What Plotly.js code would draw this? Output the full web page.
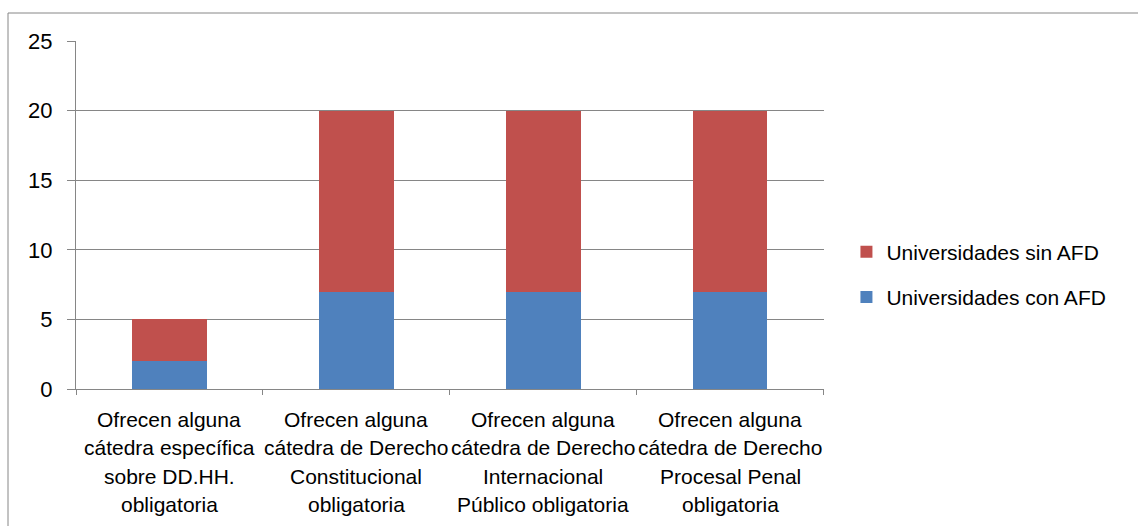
<!DOCTYPE html>
<html>
<head>
<meta charset="utf-8">
<script src="https://cdn.plot.ly/plotly-3.0.1.min.js"></script>
<style>
  html, body { margin: 0; padding: 0; background: #fff; }
  #chart { width: 1138px; height: 526px; }
</style>
</head>
<body>
<div id="chart"></div>
<script>
const categories = [
  "Ofrecen alguna<br>cátedra específica<br>sobre DD.HH.<br>obligatoria",
  "Ofrecen alguna<br>cátedra de Derecho<br>Constitucional<br>obligatoria",
  "Ofrecen alguna<br>cátedra de Derecho<br>Internacional<br>Público obligatoria",
  "Ofrecen alguna<br>cátedra de Derecho<br>Procesal Penal<br>obligatoria"
];
const conAFD = [2, 7, 7, 7];
const sinAFD = [3, 13, 13, 13];
const yTicks = [0, 5, 10, 15, 20, 25];

const FONT = "'Liberation Sans', Arial, sans-serif";
const GRID = "#868686";

const traces = [
  { type: "bar", name: "Universidades con AFD", x: categories, y: conAFD,
    marker: { color: "#4F81BD" }, legendgroup: "a", legendrank: 2, hoverinfo: "y+name" },
  { type: "bar", name: "Universidades sin AFD", x: categories, y: sinAFD,
    marker: { color: "#C0504D" }, legendgroup: "b", legendrank: 1, hoverinfo: "y+name" }
];

const annotations = [];
categories.forEach(function (c) {
  c.split("<br>").forEach(function (line, i) {
    annotations.push({
      x: c, y: 0, xref: "x", yref: "y",
      text: line, showarrow: false,
      xanchor: "center", yanchor: "middle",
      yshift: -(30 + i * 28.5),
      font: { family: FONT, size: 21, color: "#000" }
    });
  });
});

const layout = {
  width: 1138, height: 526,
  margin: { l: 76, r: 314, t: 41, b: 137 },
  paper_bgcolor: "#fff", plot_bgcolor: "#fff",
  barmode: "stack",
  bargap: 0.6,
  font: { family: FONT, size: 21, color: "#000" },
  xaxis: {
    type: "category",
    showticklabels: false,
    showgrid: false,
    showline: true, linecolor: GRID, linewidth: 1,
    ticks: "outside", ticklen: 5, tickcolor: GRID,
    tickson: "boundaries"
  },
  yaxis: {
    range: [0, 25],
    tickvals: yTicks,
    ticktext: yTicks.map(String),
    showgrid: true, gridcolor: GRID, gridwidth: 1,
    zeroline: false,
    showline: true, linecolor: GRID, linewidth: 1,
    ticks: "outside", ticklen: 8, tickcolor: GRID,
    ticklabelstandoff: 10,
    tickfont: { family: FONT, size: 22, color: "#000" }
  },
  legend: {
    x: 1.03, y: 0.329, xanchor: "left", yanchor: "middle",
    traceorder: "grouped",
    tracegroupgap: 15,
    font: { family: FONT, size: 21, color: "#000" },
    bgcolor: "rgba(0,0,0,0)"
  },
  annotations: annotations,
  shapes: [{
    type: "rect", xref: "paper", yref: "paper",
    x0: (8 - 76) / 748, x1: 2, y0: -1, y1: (389 - 13) / 348,
    line: { color: GRID, width: 1 }, fillcolor: "rgba(0,0,0,0)", layer: "below"
  }],
  showlegend: true
};

Plotly.newPlot("chart", traces, layout, { displayModeBar: false, staticPlot: true });
</script>
</body>
</html>
